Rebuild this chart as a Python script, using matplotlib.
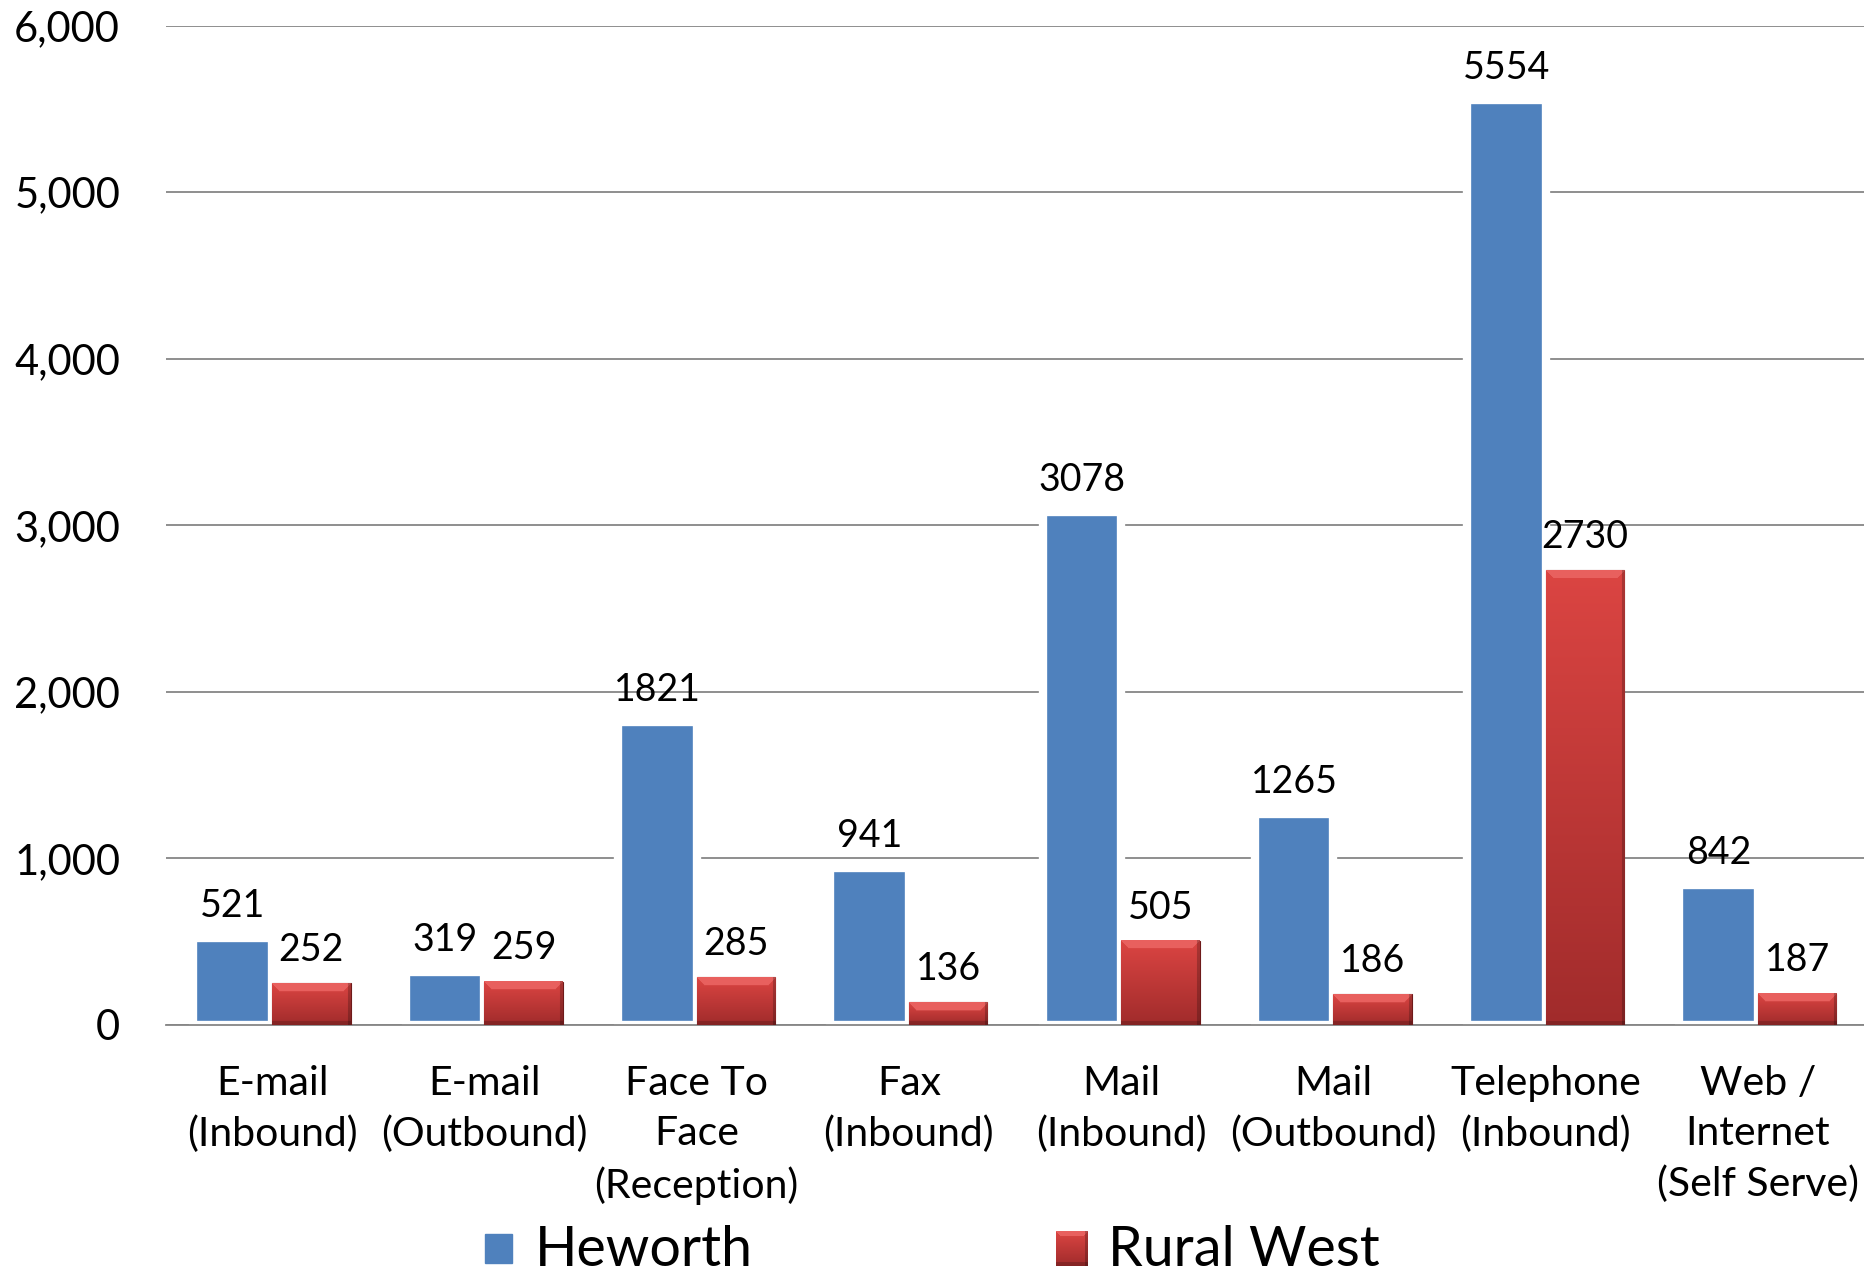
import numpy as np
import matplotlib
matplotlib.use("Agg")
import matplotlib.pyplot as plt
from matplotlib.ticker import FuncFormatter


# Data
categories = ["E-mail\n(Inbound)", "E-mail\n(Outbound)", "Face To\nFace\n(Reception)",
              "Fax\n(Inbound)", "Mail\n(Inbound)", "Mail\n(Outbound)",
              "Telephone\n(Inbound)", "Web /\nInternet\n(Self Serve)"]
heworth = [521, 319, 1821, 941, 3078, 1265, 5554, 842]
rural_west = [252, 259, 285, 136, 505, 186, 2730, 187]
series_names = ["Heworth", "Rural West"]
y_ticks = [0, 1000, 2000, 3000, 4000, 5000, 6000]

blue = "#4F81BD"
font = "Lato"
plt.rcParams['font.family'] = [font, 'DejaVu Sans']


def red_image(h, w, bevel=8):
    # vertical gradient with a light top facet and darker edges
    h = max(int(h), 2)
    w = max(int(w), 2)
    bevel = min(bevel, h // 2)
    top = np.array([0.86, 0.27, 0.26])
    bot = np.array([0.63, 0.17, 0.17])
    t = np.linspace(0, 1, h)[:, None, None]
    img = top + (bot - top) * t
    img = np.repeat(img, w, axis=1)
    rows, cols = np.mgrid[0:h, 0:w]
    facet = (rows < bevel) & (cols >= rows) & (cols < w - rows)
    img[facet] = np.array([0.91, 0.38, 0.37])
    img[cols >= w - 3] *= 0.78
    img[rows >= h - 4] *= 0.82
    return np.clip(img, 0, 1)


fig = plt.figure(figsize=(18.64, 12.78), dpi=100)
ax = fig.add_axes([0.089, 0.198, 0.911, 0.782])

x = np.arange(len(categories))
width = 0.37

bars_h = ax.bar(x - width / 2, heworth, width, color=blue, edgecolor="white",
                linewidth=6, zorder=2)
bars_r = ax.bar(x + width / 2, rural_west, width, color="#C0392B",
                edgecolor="#6E1A1A", linewidth=0.8, zorder=3)

# pixel scale of the axes, used to size the gradient images
px_x = fig.get_figwidth() * fig.dpi * 0.911 / len(categories)
px_y = fig.get_figheight() * fig.dpi * 0.782 / 6000

for b in bars_r:
    x0, w, h = b.get_x(), b.get_width(), b.get_height()
    img = red_image(h * px_y, w * px_x)
    ax.imshow(img, extent=(x0, x0 + w, 0, h), aspect="auto", zorder=4,
              interpolation="bilinear")

ax.set_xlim(-0.5, len(categories) - 0.5)
ax.set_ylim(0, 6000)

# value labels
for b, v in zip(bars_h, heworth):
    ax.annotate(str(v), (b.get_x() + b.get_width() / 2, v), xytext=(0, 23),
                textcoords="offset points", ha="center", va="center",
                fontsize=27, zorder=5)
for b, v in zip(bars_r, rural_west):
    ax.annotate(str(v), (b.get_x() + b.get_width() / 2, v), xytext=(0, 24),
                textcoords="offset points", ha="center", va="center",
                fontsize=27, zorder=5)

# axes styling
ax.set_yticks(y_ticks)
ax.yaxis.set_major_formatter(FuncFormatter(lambda v, p: f"{int(v):,}"))
ax.set_xticks(x)
ax.set_xticklabels(categories, linespacing=1.45)
ax.tick_params(axis="y", length=0, pad=33, labelsize=30)
ax.tick_params(axis="x", length=0, pad=28.5, labelsize=29.5)
ax.grid(axis="y", color="#868686", linewidth=1.3, zorder=0)
ax.set_axisbelow(True)
for s in ["top", "right", "left"]:
    ax.spines[s].set_visible(False)
ax.spines["bottom"].set_color("#868686")
ax.spines["bottom"].set_linewidth(1.3)

# legend
W, H = fig.get_figwidth() * fig.dpi, fig.get_figheight() * fig.dpi
fig.patches.append(plt.Rectangle((485 / W, 1 - 1263 / H), 27 / W, 29 / H,
                                 transform=fig.transFigure, color=blue))
leg_ax = fig.add_axes([1056 / W, 1 - 1266 / H, 32 / W, 35 / H])
leg_ax.imshow(red_image(35, 32, bevel=5), aspect="auto")
leg_ax.axis("off")
fig.text(535 / W, 1 - 1266 / H, series_names[0], fontsize=40, va="baseline")
fig.text(1108 / W, 1 - 1266 / H, series_names[1], fontsize=40, va="baseline")

fig.savefig("out.png", dpi=100)
